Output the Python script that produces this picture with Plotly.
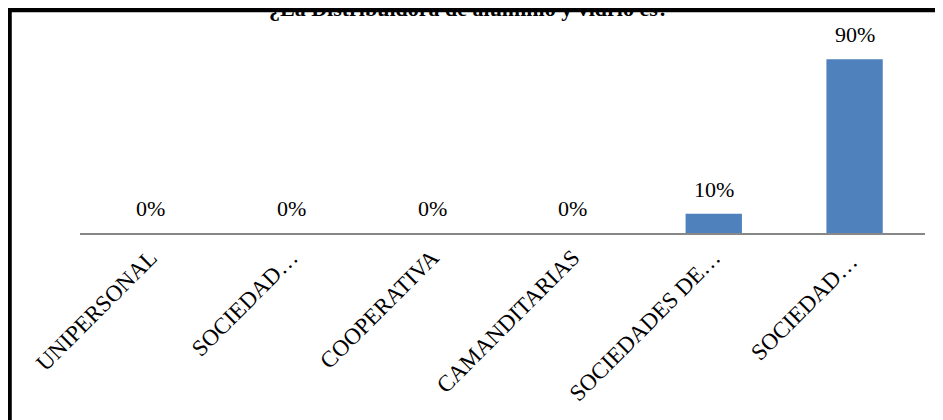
import plotly.graph_objects as go

# categorias y porcentajes
categorias = ["UNIPERSONAL", "SOCIEDAD…", "COOPERATIVA", "CAMANDITARIAS",
              "SOCIEDADES DE…", "SOCIEDAD… "]
porcentajes = [0.0, 0.0, 0.0, 0.0, 0.10, 0.90]
etiquetas = ["0%", "0%", "0%", "0%", "10%", "90%"]

SERIF = "Liberation Serif"

fig = go.Figure()
fig.add_trace(go.Bar(
    x=categorias,
    y=porcentajes,
    marker=dict(color="#4F81BD", line=dict(width=0)),
    cliponaxis=False,
))

# etiquetas de datos encima de cada barra
for cat, val, lab in zip(categorias, porcentajes, etiquetas):
    fig.add_annotation(
        x=cat, y=val, text=lab, showarrow=False,
        xanchor="center", yanchor="bottom", yshift=10,
        font=dict(family=SERIF, size=22, color="black"),
    )

# la pagina tiene 8px de margen, se compensa en los margenes
fig.update_layout(
    width=943, height=420,
    margin=dict(l=72, r=26, t=32, b=195),
    paper_bgcolor="white",
    plot_bgcolor="white",
    showlegend=False,
    bargap=0.6,
    font=dict(family=SERIF, color="black"),
)
fig.update_xaxes(
    tickangle=-45, automargin=False,
    tickfont=dict(family=SERIF, size=23, color="black"),
    showline=True, linecolor="#878787", linewidth=2,
    showgrid=False, ticks="", ticklen=0,
)
fig.update_yaxes(
    range=[0, 1], visible=False, showgrid=False, zeroline=False,
)

# titulo (cortado arriba, como en la imagen)
fig.add_annotation(
    text="<b>¿La Distribuidora de aluminio y vidrio es?</b>",
    xref="paper", yref="paper", x=0.46, y=1.162,
    xanchor="center", yanchor="middle", showarrow=False,
    font=dict(family=SERIF, size=22, color="black"),
)

# marco negro alrededor del grafico
fig.add_shape(
    type="rect", xref="paper", yref="paper",
    x0=-0.0834, x1=1.05, y0=-1.1, y1=1.155,
    line=dict(color="black", width=4.5), fillcolor="rgba(0,0,0,0)",
    layer="above",
)

fig.write_html("out.html")
